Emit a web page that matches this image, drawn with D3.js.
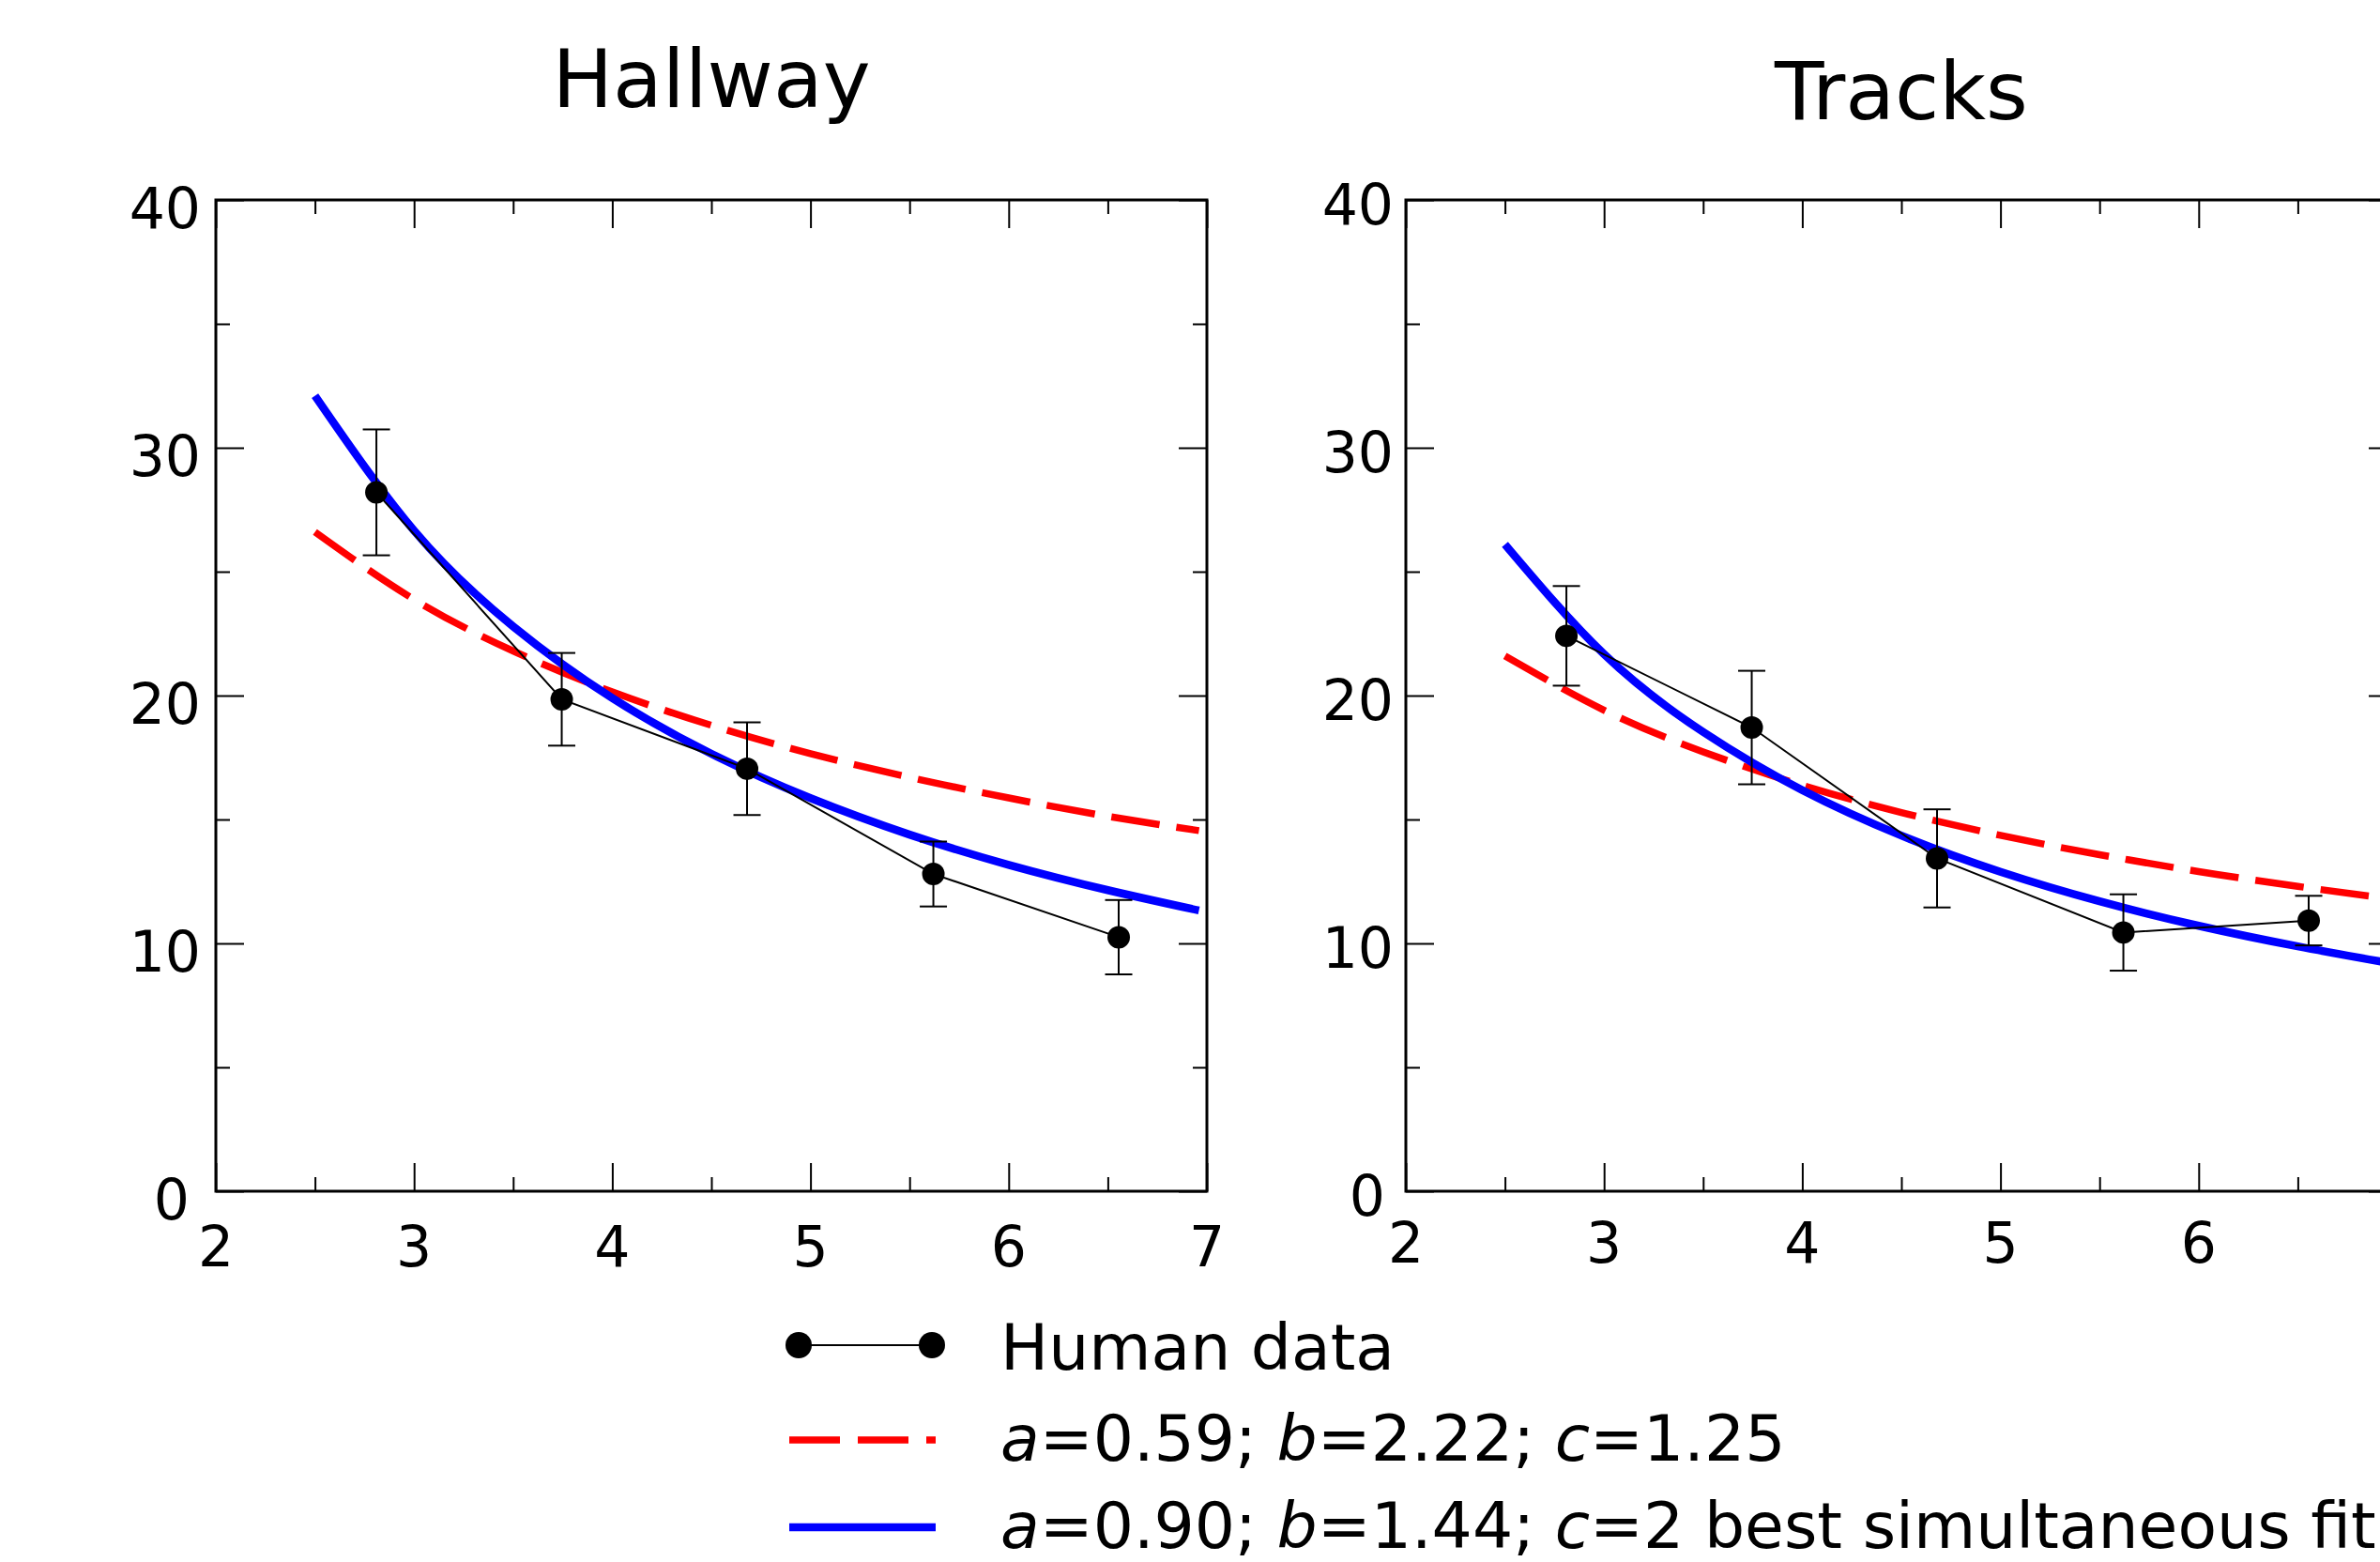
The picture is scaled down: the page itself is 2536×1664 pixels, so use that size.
<!DOCTYPE html>
<html><head><meta charset="utf-8">
<script src="https://cdn.jsdelivr.net/npm/d3@7"></script>
<style>
body{margin:0;background:#fff}
svg{display:block}
text{font-family:"DejaVu Sans",sans-serif;fill:#000}
</style>
</head><body>
<svg id="chart" width="2536" height="1664"></svg>
<script>
// ---------- data ----------
const panelTitles = ["Hallway", "Tracks"];
const xMajorTicks = [2, 3, 4, 5, 6, 7];
const xMinorTicks = [2.5, 3.5, 4.5, 5.5, 6.5];
const yMajorTicks = [0, 10, 20, 30, 40];
const yMinorTicks = [5, 15, 25, 35];

const dataX = [2.81, 3.745, 4.68, 5.62, 6.555];
const hallwayMean = [28.2, 19.85, 17.05, 12.8, 10.25];
const hallwayErr  = [2.54, 1.87, 1.87, 1.31, 1.5];
const tracksMean  = [22.41, 18.71, 13.43, 10.44, 10.92];
const tracksErr   = [2.01, 2.29, 1.98, 1.54, 1.0];

const curveX      = [2.5, 3, 3.5, 4, 4.5, 5, 5.5, 6, 6.5, 6.96];
const hallwayRed  = [26.6, 23.88, 21.8, 20.15, 18.8, 17.66, 16.7, 15.87, 15.13, 14.55];
const hallwayBlue = [32.1, 26.66, 22.79, 19.9, 17.65, 15.86, 14.39, 13.17, 12.15, 11.33];
const tracksRed   = [21.6, 19.41, 17.73, 16.38, 15.28, 14.36, 13.58, 12.9, 12.3, 11.81];
const tracksBlue  = [26.1, 21.67, 18.53, 16.18, 14.35, 12.89, 11.7, 10.71, 9.88, 9.21];

const legendHuman = "Human data";
const legendRed  = [["a", true], ["=0.59; ", false], ["b", true], ["=2.22; ", false], ["c", true], ["=1.25", false]];
const legendBlue = [["a", true], ["=0.90; ", false], ["b", true], ["=1.44; ", false], ["c", true], ["=2 best simultaneous fit", false]];

// ---------- layout ----------
const W = 2536, H = 1664;
const panels = [
  {x0: 230,  title: panelTitles[0], titleY: 114, mean: hallwayMean, err: hallwayErr, red: hallwayRed, blue: hallwayBlue,
   yLabDx: -16, zeroDx: -28, yLabDy: 29.5, xLabY: 1349},
  {x0: 1498, title: panelTitles[1], titleY: 127, mean: tracksMean, err: tracksErr, red: tracksRed, blue: tracksBlue,
   yLabDx: -13, zeroDx: -22, yLabDy: 25.5, xLabY: 1345}
];
const PW = 1056, TOP = 213, BOT = 1269;
const RED = "#ff0000", BLUE = "#0000ff";

const svg = d3.select("#chart");
svg.append("rect").attr("width", W).attr("height", H).attr("fill", "#fff");

panels.forEach(p => {
  const x = d3.scaleLinear().domain([2, 7]).range([p.x0, p.x0 + PW]);
  const y = d3.scaleLinear().domain([0, 40]).range([BOT, TOP]);
  const g = svg.append("g");

  // ticks via d3 axes (inward on all four sides)
  const tickStyle = sel => {
    sel.select(".domain").remove();
    sel.selectAll("line").attr("stroke", "#000").attr("stroke-width", 2);
    sel.selectAll("text").remove();
  };
  const mk = (axisFn, scale, vals, size, tr) =>
    g.append("g").attr("transform", tr)
      .call(axisFn(scale).tickValues(vals).tickSize(size).tickSizeOuter(0).tickFormat(""))
      .call(tickStyle);
  mk(d3.axisBottom, x, xMajorTicks, -30, `translate(0,${BOT})`);
  mk(d3.axisBottom, x, xMinorTicks, -15, `translate(0,${BOT})`);
  mk(d3.axisTop, x, xMajorTicks, -30, `translate(0,${TOP})`);
  mk(d3.axisTop, x, xMinorTicks, -15, `translate(0,${TOP})`);
  mk(d3.axisLeft, y, yMajorTicks, -30, `translate(${p.x0},0)`);
  mk(d3.axisLeft, y, yMinorTicks, -15, `translate(${p.x0},0)`);
  mk(d3.axisRight, y, yMajorTicks, -30, `translate(${p.x0 + PW},0)`);
  mk(d3.axisRight, y, yMinorTicks, -15, `translate(${p.x0 + PW},0)`);

  // frame
  g.append("rect").attr("x", p.x0).attr("y", TOP).attr("width", PW).attr("height", BOT - TOP)
    .attr("fill", "none").attr("stroke", "#000").attr("stroke-width", 3);

  // tick labels (only those that fall inside the picture)
  g.selectAll("text.yl").data(yMajorTicks).join("text").attr("class", "yl")
    .attr("x", d => p.x0 + (d === 0 ? p.zeroDx : p.yLabDx))
    .attr("y", d => y(d) + p.yLabDy)
    .attr("text-anchor", "end").attr("font-size", 60).text(d => d);
  g.selectAll("text.xl").data(xMajorTicks.filter(d => x(d) < W - 20)).join("text").attr("class", "xl")
    .attr("x", d => x(d)).attr("y", p.xLabY)
    .attr("text-anchor", "middle").attr("font-size", 60).text(d => d);

  // title
  g.append("text").attr("x", p.x0 + PW / 2).attr("y", p.titleY)
    .attr("text-anchor", "middle").attr("font-size", 86).text(p.title);

  // model curves
  const line = d3.line().x((d, i) => x(curveX[i])).y(d => y(d)).curve(d3.curveNatural);
  g.append("path").attr("d", line(p.red)).attr("fill", "none").attr("stroke", RED)
    .attr("stroke-width", 7.5).attr("stroke-dasharray", "52,18");
  g.append("path").attr("d", line(p.blue)).attr("fill", "none").attr("stroke", BLUE)
    .attr("stroke-width", 8.5);

  // human data
  const dline = d3.line().x((d, i) => x(dataX[i])).y(d => y(d));
  g.append("path").attr("d", dline(p.mean)).attr("fill", "none").attr("stroke", "#000").attr("stroke-width", 2);
  const eb = g.selectAll("g.eb").data(p.mean).join("g").attr("class", "eb");
  eb.append("line").attr("x1", (d, i) => x(dataX[i])).attr("x2", (d, i) => x(dataX[i]))
    .attr("y1", (d, i) => y(d + p.err[i])).attr("y2", (d, i) => y(d - p.err[i]))
    .attr("stroke", "#000").attr("stroke-width", 2);
  [1, -1].forEach(s => {
    eb.append("line").attr("x1", (d, i) => x(dataX[i]) - 14.5).attr("x2", (d, i) => x(dataX[i]) + 14.5)
      .attr("y1", (d, i) => y(d + s * p.err[i])).attr("y2", (d, i) => y(d + s * p.err[i]))
      .attr("stroke", "#000").attr("stroke-width", 2);
  });
  g.selectAll("circle.pt").data(p.mean).join("circle").attr("class", "pt")
    .attr("cx", (d, i) => x(dataX[i])).attr("cy", d => y(d)).attr("r", 12).attr("fill", "#000");
});

// ---------- legend ----------
const lg = svg.append("g");
const LX1 = 841, LX2 = 997, TX = 1066, LFS = 68;
lg.append("line").attr("x1", 851).attr("x2", 993).attr("y1", 1433).attr("y2", 1433)
  .attr("stroke", "#000").attr("stroke-width", 2);
[851, 993].forEach(cx => lg.append("circle").attr("cx", cx).attr("cy", 1433).attr("r", 14).attr("fill", "#000"));
lg.append("text").attr("x", TX).attr("y", 1459).attr("font-size", LFS).text(legendHuman);

lg.append("line").attr("x1", LX1).attr("x2", LX2).attr("y1", 1534).attr("y2", 1534)
  .attr("stroke", RED).attr("stroke-width", 7.5).attr("stroke-dasharray", "54,19");
lg.append("line").attr("x1", LX1).attr("x2", LX2).attr("y1", 1627).attr("y2", 1627)
  .attr("stroke", BLUE).attr("stroke-width", 8.5);

[[legendRed, 1556], [legendBlue, 1649]].forEach(([segs, by]) => {
  const t = lg.append("text").attr("x", TX).attr("y", by).attr("font-size", LFS).attr("xml:space", "preserve");
  segs.forEach(([s, it]) => t.append("tspan").attr("font-style", it ? "italic" : "normal").text(s));
});
</script>
</body></html>
